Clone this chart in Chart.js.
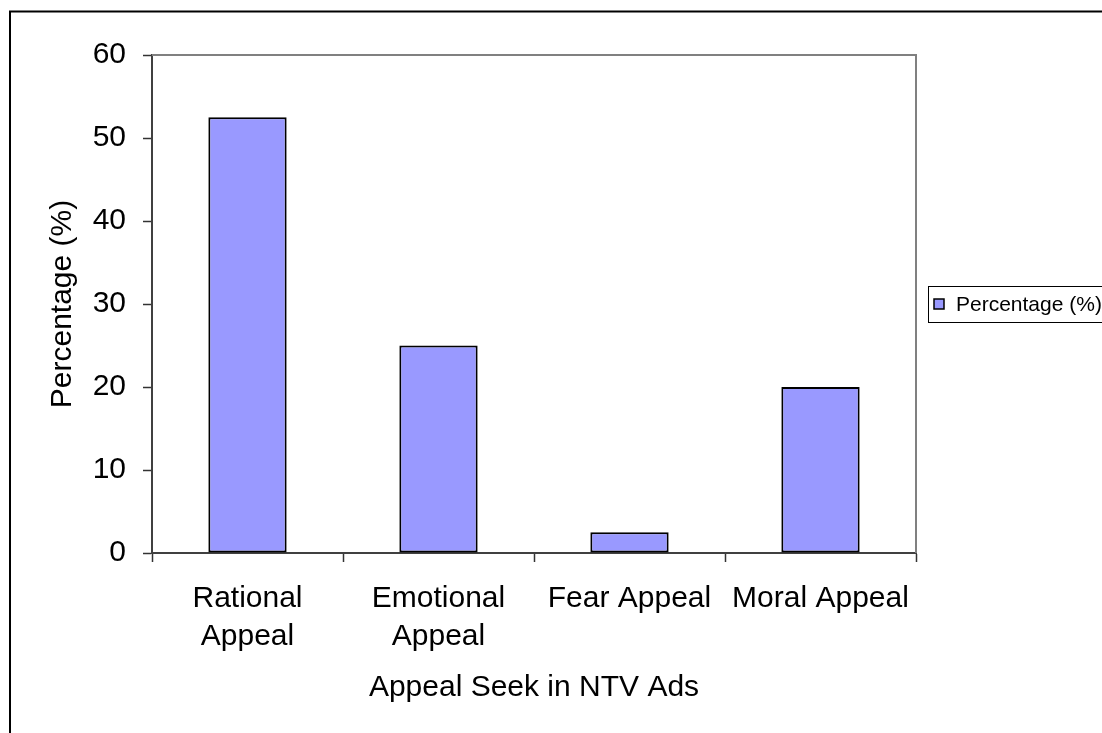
<!DOCTYPE html>
<html>
<head>
<meta charset="utf-8">
<script src="https://cdn.jsdelivr.net/npm/chart.js@4/dist/chart.umd.min.js"></script>
<style>
  html, body { margin: 0; padding: 0; background: #fff; }
  #wrap { width: 1102px; height: 733px; position: relative; }
</style>
</head>
<body>
<div id="wrap"><canvas id="c" width="1102" height="733"></canvas></div>
<script>
const categories = [["Rational", "Appeal"], ["Emotional", "Appeal"], "Fear Appeal", "Moral Appeal"];
const seriesLabel = "Percentage (%)";
const percentages = [52.5, 25, 2.5, 20];
const yTicks = [0, 10, 20, 30, 40, 50, 60];
const xTitle = "Appeal Seek in NTV Ads";
const yTitle = "Percentage (%)";

const FONT = "'Liberation Sans', Arial, sans-serif";

const framePlugin = {
  id: 'frame',
  beforeDraw(chart) {
    const ctx = chart.ctx;
    ctx.save();
    ctx.fillStyle = '#fff';
    ctx.fillRect(0, 0, chart.width, chart.height);
    ctx.restore();
  },
  afterDraw(chart) {
    const ctx = chart.ctx;
    const a = chart.chartArea;
    ctx.save();
    // outer chart border
    ctx.strokeStyle = '#000';
    ctx.lineWidth = 2;
    ctx.strokeRect(10, 11.5, 1110, 740);
    // plot area top and right border
    ctx.strokeStyle = '#808080';
    ctx.lineWidth = 2;
    ctx.beginPath();
    ctx.moveTo(a.left, a.top);
    ctx.lineTo(a.right, a.top);
    ctx.lineTo(a.right, a.bottom);
    ctx.stroke();
    // legend
    const ds = chart.data.datasets[0];
    ctx.strokeStyle = '#000';
    ctx.lineWidth = 1;
    ctx.fillStyle = '#fff';
    ctx.fillRect(928, 286, 200, 36);
    ctx.strokeRect(928.5, 286.5, 200, 36);
    ctx.fillStyle = ds.backgroundColor;
    ctx.fillRect(934, 299, 10, 10);
    ctx.strokeStyle = '#000';
    ctx.lineWidth = 1.5;
    ctx.strokeRect(934, 299, 10, 10);
    ctx.fillStyle = '#000';
    ctx.font = '21px ' + FONT;
    ctx.textBaseline = 'middle';
    ctx.textAlign = 'left';
    ctx.fillText(ds.label, 956, 305);
    ctx.restore();
  }
};

new Chart(document.getElementById('c'), {
  type: 'bar',
  data: {
    labels: categories,
    datasets: [{
      label: seriesLabel,
      data: percentages,
      backgroundColor: '#9999FF',
      borderColor: '#000',
      borderWidth: 2,
      borderSkipped: false,
      barPercentage: 0.41,
      categoryPercentage: 1.0
    }]
  },
  options: {
    responsive: false,
    animation: false,
    devicePixelRatio: 1,
    layout: { padding: { left: 0, top: 55, right: 186, bottom: 0 } },
    plugins: {
      legend: { display: false },
      tooltip: { enabled: false }
    },
    scales: {
      x: {
        offset: true,
        grid: {
          offset: true,
          drawOnChartArea: false,
          drawTicks: true,
          tickLength: 9,
          tickColor: '#333',
          tickWidth: 1.5
        },
        border: { display: true, color: '#404040', width: 2 },
        ticks: {
          color: '#000',
          font: { family: FONT, size: 30, lineHeight: 1.25 },
          padding: 18,
          maxRotation: 0,
          minRotation: 0,
          autoSkip: false
        },
        title: {
          display: true,
          text: xTitle,
          color: '#000',
          font: { family: FONT, size: 30, lineHeight: 1.2 },
          padding: { top: 0, bottom: 27 }
        },
        afterFit(scale) { scale.height = 180; }
      },
      y: {
        min: 0,
        max: 60,
        afterBuildTicks(scale) { scale.ticks = yTicks.map(v => ({ value: v })); },
        grid: {
          drawOnChartArea: false,
          drawTicks: true,
          tickLength: 9,
          tickColor: '#333',
          tickWidth: 1.5
        },
        border: { display: true, color: '#404040', width: 2 },
        ticks: {
          color: '#000',
          font: { family: FONT, size: 30 },
          padding: 17
        },
        title: {
          display: true,
          text: yTitle,
          color: '#000',
          font: { family: FONT, size: 30, lineHeight: 1.2 },
          padding: { top: 45, bottom: 0 }
        },
        afterFit(scale) { scale.width = 152; }
      }
    }
  },
  plugins: [framePlugin]
});
</script>
</body>
</html>
